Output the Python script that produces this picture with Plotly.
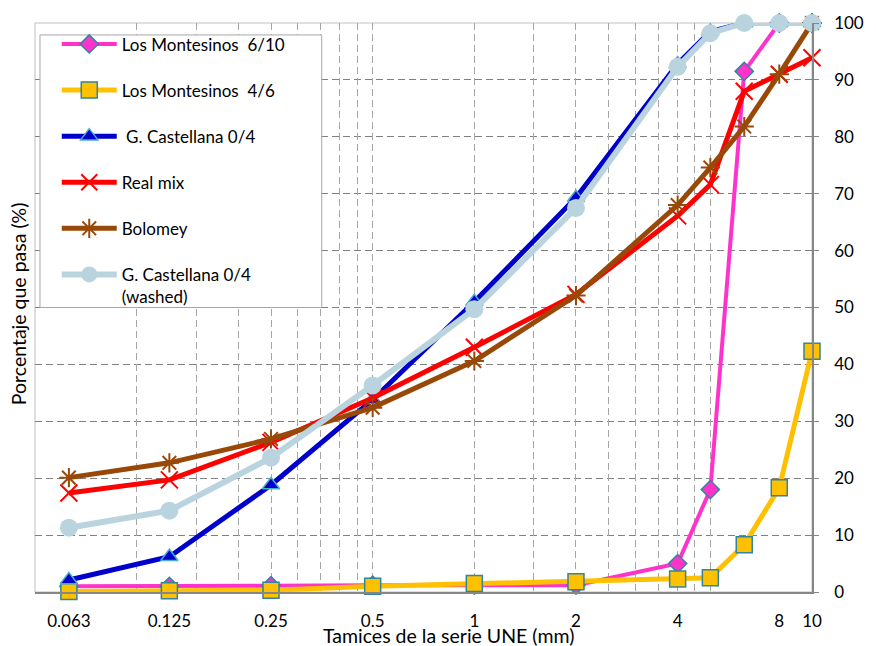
import math
import plotly.graph_objects as go

# Sieve sizes of the UNE series (mm)
sieves = [0.063, 0.125, 0.25, 0.5, 1, 2, 4, 5, 6.3, 8, 10]

# Percentage passing for each aggregate / curve
montesinos_6_10 = [1.0, 1.0, 1.1, 1.2, 1.2, 1.2, 5.0, 18.0, 91.5, 100, 100]
montesinos_4_6 = [0.1, 0.2, 0.3, 1.0, 1.5, 1.8, 2.3, 2.5, 8.3, 18.3, 42.3]
castellana_0_4 = [2.1, 6.2, 18.8, 33.8, 51.0, 69.3, 92.8, 98.5, 100, 100, 100]
real_mix = [17.4, 19.7, 26.3, 34.1, 43.0, 52.3, 66.1, 71.6, 88.0, 91.0, 93.9]
bolomey = [20.1, 22.7, 26.9, 32.4, 40.6, 52.1, 68.0, 74.6, 81.8, 91.0, 100]
castellana_washed = [11.3, 14.3, 23.6, 36.3, 49.7, 67.5, 92.3, 98.2, 100, 100, 100]

# Labelled sieves on the x axis
x_tick_vals = [0.063, 0.125, 0.25, 0.5, 1, 2, 4, 8, 10]
x_tick_text = ["0.063", "0.125", "0.25", "0.5", "1", "2", "4", "8", "10"]
y_tick_vals = list(range(0, 101, 10))

# Vertical grid: log axis starting at 0.05 with k*0.05 and k*0.5 subdivisions
x_grid_vals = [round(k * 0.05, 3) for k in range(2, 11)] + [round(k * 0.5, 2) for k in range(2, 11)]

FONT = "Lato"
TEAL = "#31859C"

series = [
    dict(name="Los Montesinos  6/10", y=montesinos_6_10, color="#FF33CC", width=4,
         marker=dict(symbol="diamond", size=14, color="#FF33CC", line=dict(color=TEAL, width=1.5))),
    dict(name="Los Montesinos  4/6", y=montesinos_4_6, color="#FFC000", width=5,
         marker=dict(symbol="square", size=16, color="#FFC000", line=dict(color=TEAL, width=1.5))),
    dict(name=" G. Castellana 0/4", y=castellana_0_4, color="#0000CC", width=5,
         marker=dict(symbol="triangle-up", size=15, color="#0000CC", line=dict(color="#4BACC6", width=1.5))),
    dict(name="Real mix", y=real_mix, color="#FF0000", width=5,
         marker=dict(symbol="x-thin", size=17, color="#FF0000", line=dict(color="#FF0000", width=2))),
    dict(name="Bolomey", y=bolomey, color="#984807", width=5,
         marker=dict(symbol="asterisk", size=16, color="#984807", line=dict(color="#984807", width=2))),
    dict(name="G. Castellana 0/4<br>(washed)", y=castellana_washed, color="#B9D4DF", width=6,
         marker=dict(symbol="circle", size=18, color="#B9D4DF", line=dict(width=0))),
]

fig = go.Figure()

# Empty trace that activates the overlaid x axis carrying the vertical grid
fig.add_trace(go.Scatter(x=[], y=[], xaxis="x2", yaxis="y", showlegend=False,
                         hoverinfo="skip", mode="lines"))

for i, s in enumerate(series):
    fig.add_trace(go.Scatter(
        x=sieves, y=s["y"], name=s["name"], mode="lines+markers",
        line=dict(color=s["color"], width=s["width"]),
        marker=s["marker"], cliponaxis=False, legendgroup=f"g{i}",
    ))

x_range = [math.log10(0.05), math.log10(10)]
grid_dash = "7px,4px"

fig.update_layout(
    width=876, height=646,
    margin=dict(l=35, r=55, t=20, b=54),
    paper_bgcolor="white", plot_bgcolor="white",
    font=dict(family=FONT, size=17, color="black"),
    showlegend=True,
    legend=dict(
        x=0.028, y=0.994, xanchor="left", yanchor="top",
        bgcolor="rgba(0,0,0,0)", borderwidth=0,
        tracegroupgap=21, valign="top", itemwidth=55,
        font=dict(family=FONT, size=17, color="black"),
    ),
    xaxis=dict(
        type="log", range=x_range,
        tickmode="array", tickvals=x_tick_vals, ticktext=x_tick_text,
        showgrid=False, zeroline=False,
        showline=True, linecolor="#868686", linewidth=1.5,
        ticks="", ticklabelstandoff=13,
        tickfont=dict(family=FONT, size=17, color="black"),
    ),
    xaxis2=dict(
        type="log", range=x_range, overlaying="x", anchor="y", side="bottom",
        tickmode="array", tickvals=x_grid_vals,
        showticklabels=False, ticks="",
        showgrid=True, gridcolor="#A6A6A6", gridwidth=1, griddash=grid_dash,
        showline=False, zeroline=False,
    ),
    yaxis=dict(
        side="right", range=[0, 100],
        tickmode="array", tickvals=y_tick_vals,
        showgrid=True, gridcolor="#808080", gridwidth=1, griddash=grid_dash,
        zeroline=False,
        showline=True, linecolor="#868686", linewidth=1.5,
        ticks="outside", ticklen=5, tickcolor="#868686", ticklabelstandoff=12,
        tickfont=dict(family=FONT, size=17, color="black"),
    ),
    shapes=[
        # plot-area frame
        dict(type="rect", xref="paper", yref="paper", x0=0, y0=0, x1=1, y1=1,
             line=dict(color="#BFBFBF", width=1), layer="below"),
        # legend box
        dict(type="rect", xref="paper", yref="paper",
             x0=0.0064, x1=0.369, y0=0.5, y1=0.979,
             line=dict(color="#A6A6A6", width=1), fillcolor="white", layer="above"),
    ],
    annotations=[
        dict(text="Tamices de la serie UNE (mm)", xref="paper", yref="paper",
             x=0.532, y=-0.077, xanchor="center", yanchor="middle", showarrow=False,
             font=dict(family=FONT, size=19.5, color="black")),
        dict(text="Porcentaje que pasa (%)", xref="paper", yref="paper",
             x=-0.021, y=0.507, xanchor="center", yanchor="middle", showarrow=False,
             textangle=-90, font=dict(family=FONT, size=19.5, color="black")),
    ],
)

fig.write_html("out.html")
